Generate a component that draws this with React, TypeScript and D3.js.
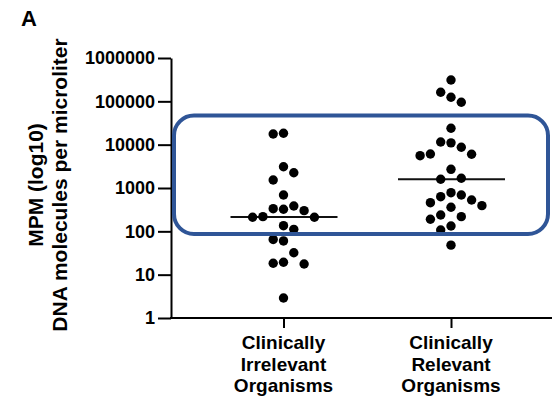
import React, { useEffect, useRef } from 'react'
import * as d3 from 'd3'

// categories + their wrapped labels
const categories = ['Clinically Irrelevant Organisms', 'Clinically Relevant Organisms']
const categoryLabelLines = [
  ['Clinically', 'Irrelevant', 'Organisms'],
  ['Clinically', 'Relevant', 'Organisms'],
]

// MPM values (molecules per microliter)
const irrelevantMPM = [
  18300, 17600, 3100, 2250, 1530, 690, 384, 333, 323, 300, 218, 211, 211, 135, 111, 65, 60,
  32, 19.3, 18.3, 17.6, 2.9,
]
const relevantMPM = [
  311000, 162000, 124000, 95000, 23900, 11500, 11000, 8700, 6090, 6000, 5570, 2700, 1675,
  1590, 780, 690, 630, 529, 458, 391, 359, 238, 218, 190, 133, 107, 48,
]

const yTickValues = [1, 10, 100, 1000, 10000, 100000, 1000000]
const yTitleLines = ['MPM (log10)', 'DNA molecules per microliter']
const panelLabel = 'A'
// MPM range highlighted by the blue box
const highlightRange = [87, 47000]

const W = 552
const H = 401
const FONT = "'Liberation Sans', Arial, Helvetica, sans-serif"

// simple greedy beeswarm: columns of fixed width, nearest-to-center first
function swarmColumns(values: number[], y: (v: number) => number, minGap: number) {
  const order = d3.range(values.length).sort((a, b) => values[b] - values[a])
  const placed: { col: number; y: number }[] = []
  const cols = new Array(values.length).fill(0)
  let left = 0
  let right = 0
  order.forEach((i) => {
    const py = y(values[i])
    for (let k = 0; k < 30; k++) {
      const cands = k === 0 ? [0] : left <= right ? [-k, k] : [k, -k]
      const free = cands.find((c) =>
        placed.every((p) => p.col !== c || Math.abs(p.y - py) >= minGap)
      )
      if (free !== undefined) {
        placed.push({ col: free, y: py })
        if (free < 0) left++
        if (free > 0) right++
        cols[i] = free
        return
      }
    }
  })
  return cols
}

const App = () => {
  const svgRef = useRef<SVGSVGElement>(null)

  useEffect(() => {
    const svg = d3.select(svgRef.current)
    svg.selectAll('*').remove()

    const axisX = 171
    const axisY = 318
    const xEnd = 556

    const yScale = d3.scaleLog().domain([1, 1000000]).range([axisY, 58])
    const xScale = d3.scalePoint<string>().domain(categories).range([283.5, 451])

    const step = 10.3
    const r = 4.7

    // panel letter
    svg
      .append('text')
      .attr('x', 21)
      .attr('y', 26)
      .attr('font-family', FONT)
      .attr('font-weight', 'bold')
      .attr('font-size', 22)
      .text(panelLabel)

    // y title (two rotated lines)
    yTitleLines.forEach((line, i) => {
      svg
        .append('text')
        .attr('transform', `translate(${43 + i * 24}, 185) rotate(-90)`)
        .attr('text-anchor', 'middle')
        .attr('font-family', FONT)
        .attr('font-weight', 'bold')
        .attr('font-size', 21)
        .text(line)
    })

    // y axis
    const yAxis = d3
      .axisLeft(yScale)
      .tickValues(yTickValues)
      .tickFormat((d) => d3.format('d')(d as number))
      .tickSize(13)
      .tickSizeOuter(0)
      .tickPadding(3)
    const gy = svg.append('g').attr('transform', `translate(${axisX},0)`).call(yAxis)
    gy.selectAll('path, line').attr('stroke', '#000').attr('stroke-width', 2)
    gy.selectAll('text')
      .attr('font-family', FONT)
      .attr('font-weight', 'bold')
      .attr('font-size', 18)
      .attr('fill', '#000')

    // x axis
    svg
      .append('line')
      .attr('x1', axisX - 1)
      .attr('x2', xEnd)
      .attr('y1', axisY)
      .attr('y2', axisY)
      .attr('stroke', '#000')
      .attr('stroke-width', 2)
    const xAxis = d3.axisBottom(xScale).tickSize(10).tickSizeOuter(0).tickFormat(() => '')
    const gx = svg.append('g').attr('transform', `translate(0,${axisY})`).call(xAxis)
    gx.select('.domain').remove()
    gx.selectAll('line').attr('stroke', '#000').attr('stroke-width', 2)

    categoryLabelLines.forEach((lines, ci) => {
      const t = svg
        .append('text')
        .attr('text-anchor', 'middle')
        .attr('font-family', FONT)
        .attr('font-weight', 'bold')
        .attr('font-size', 19)
      lines.forEach((ln, li) => {
        t.append('tspan')
          .attr('x', xScale(categories[ci]) as number)
          .attr('y', 349 + li * 21.5)
          .text(ln)
      })
    })

    // dots + medians
    const groups = [irrelevantMPM, relevantMPM]
    groups.forEach((values, gi) => {
      const cx = xScale(categories[gi]) as number
      const med = d3.median(values) as number
      svg
        .append('line')
        .attr('x1', cx - 53)
        .attr('x2', cx + 54)
        .attr('y1', yScale(med))
        .attr('y2', yScale(med))
        .attr('stroke', '#111')
        .attr('stroke-width', 2)

      const cols = swarmColumns(values, yScale, 14)
      svg
        .append('g')
        .selectAll('circle')
        .data(values)
        .enter()
        .append('circle')
        .attr('cx', (d, i) => cx + cols[i] * step)
        .attr('cy', (d) => yScale(d))
        .attr('r', r)
        .attr('fill', '#000')
    })

    // highlight box
    const top = yScale(highlightRange[1])
    const bottom = yScale(highlightRange[0])
    svg
      .append('rect')
      .attr('x', axisX + 3)
      .attr('y', top)
      .attr('width', 548 - axisX - 3)
      .attr('height', bottom - top)
      .attr('rx', 20)
      .attr('ry', 20)
      .attr('fill', 'none')
      .attr('stroke', '#2F5597')
      .attr('stroke-width', 4)
  }, [])

  return (
    <svg
      ref={svgRef}
      width={W}
      height={H}
      style={{ position: 'absolute', left: 0, top: 0, background: '#fff' }}
    ></svg>
  )
}

export default App
